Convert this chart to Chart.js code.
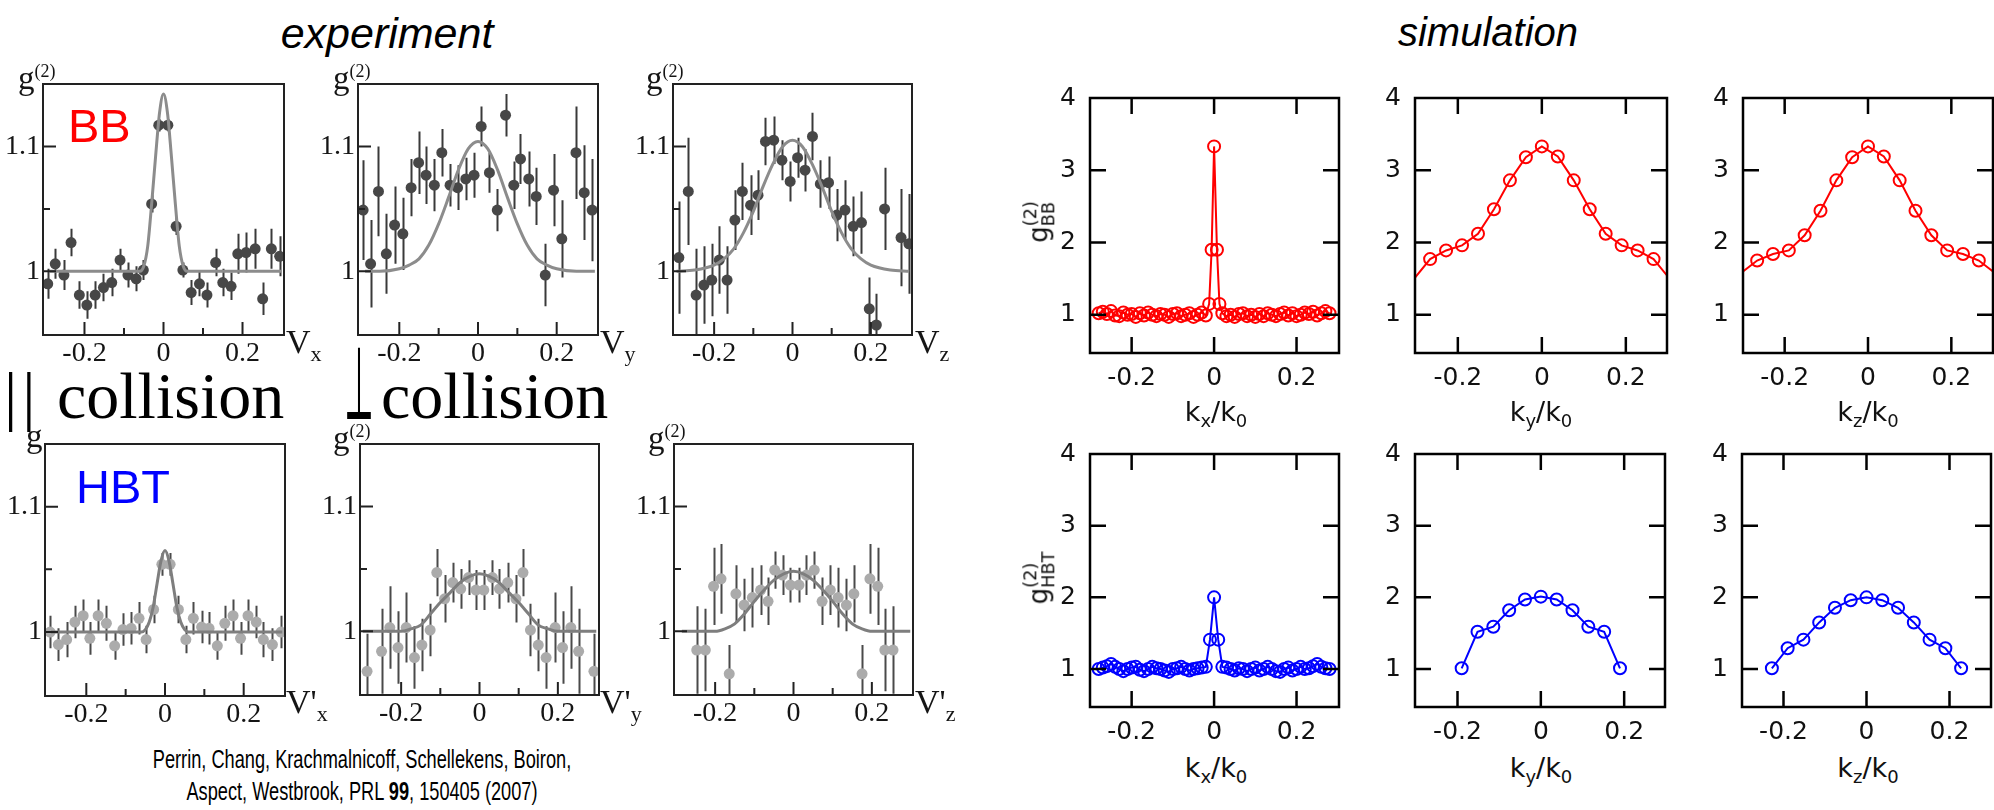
<!DOCTYPE html>
<html>
<head>
<meta charset="utf-8">
<title>g2 correlations: experiment and simulation</title>
<script src="https://cdn.jsdelivr.net/npm/chart.js@4.4.1/dist/chart.umd.min.js"></script>
<style>
  html, body { margin: 0; padding: 0; background: #fff; }
  #page { position: relative; width: 1994px; height: 810px; overflow: hidden; background: #fff; }
  #page canvas { position: absolute; }
  .txt { position: absolute; white-space: nowrap; line-height: 1; }
  .serif { font-family: "Liberation Serif", "DejaVu Serif", serif; color: #151515; }
  .sans { font-family: "Liberation Sans", Arial, sans-serif; color: #000; }
  .gp { font-family: "DejaVu Sans", sans-serif; color: #111; }
  .txt sub, .txt sup { line-height: 0; }
  .ctr { transform: translateX(-50%); }
  .ylab { transform: translate(-50%, -50%) rotate(-90deg); font-size: 26px; }
  .stk { display: inline-block; vertical-align: middle; font-size: 0.68em; line-height: 1; text-align: left; }
  .stk span { display: block; }
  .perp { font-family: "Noto Sans CJK JP", "DejaVu Sans", sans-serif; font-size: 50px; color: #000; transform: scale(0.6, 2.0); transform-origin: 0 46px; }
</style>
</head>
<body>
<div id="page">
  <canvas id="e1"></canvas><canvas id="e2"></canvas><canvas id="e3"></canvas>
  <canvas id="e4"></canvas><canvas id="e5"></canvas><canvas id="e6"></canvas>
  <canvas id="s1"></canvas><canvas id="s2"></canvas><canvas id="s3"></canvas>
  <canvas id="s4"></canvas><canvas id="s5"></canvas><canvas id="s6"></canvas>

  <div class="txt sans ctr" style="left:387px; top:12px; font-size:43px; font-style:italic;">experiment</div>
  <div class="txt sans ctr" style="left:1488px; top:12px; font-size:40px; font-style:italic;">simulation</div>

  <div class="txt sans" style="left:68px; top:102px; font-size:47px; color:#ff0000;">BB</div>
  <div class="txt sans" style="left:76px; top:463px; font-size:47px; color:#0000ff;">HBT</div>

  <div class="txt serif" style="left:4px; top:363px; font-size:66px; color:#000;"><span style="letter-spacing:5px;">||</span> collision</div>
  <div class="txt perp" style="left:344px; top:374px;">&#8869;</div>
  <div class="txt serif" style="left:381px; top:363px; font-size:66px; color:#000;">collision</div>

  <!-- g2 labels over the measured panels -->
  <div class="txt serif" style="left:18px; top:62px; font-size:33px;">g<sup style="font-size:18px;">(2)</sup></div>
  <div class="txt serif" style="left:333px; top:62px; font-size:33px;">g<sup style="font-size:18px;">(2)</sup></div>
  <div class="txt serif" style="left:646px; top:62px; font-size:33px;">g<sup style="font-size:18px;">(2)</sup></div>
  <div class="txt serif" style="left:26px; top:420px; font-size:33px;">g</div>
  <div class="txt serif" style="left:333px; top:422px; font-size:33px;">g<sup style="font-size:18px;">(2)</sup></div>
  <div class="txt serif" style="left:648px; top:422px; font-size:33px;">g<sup style="font-size:18px;">(2)</sup></div>

  <!-- velocity axis names -->
  <div class="txt serif" style="left:286px; top:325px; font-size:34px;">V<sub style="font-size:22px;">x</sub></div>
  <div class="txt serif" style="left:600px; top:325px; font-size:34px;">V<sub style="font-size:22px;">y</sub></div>
  <div class="txt serif" style="left:915px; top:325px; font-size:34px;">V<sub style="font-size:22px;">z</sub></div>
  <div class="txt serif" style="left:286px; top:685px; font-size:34px;">V'<sub style="font-size:22px;">x</sub></div>
  <div class="txt serif" style="left:600px; top:685px; font-size:34px;">V'<sub style="font-size:22px;">y</sub></div>
  <div class="txt serif" style="left:915px; top:685px; font-size:34px;">V'<sub style="font-size:22px;">z</sub></div>

  <!-- simulation axis titles -->
  <div class="txt gp ctr" style="left:1216px; top:398px; font-size:27px;">k<sub style="font-size:18px;">x</sub>/k<sub style="font-size:18px;">0</sub></div>
  <div class="txt gp ctr" style="left:1541px; top:398px; font-size:27px;">k<sub style="font-size:18px;">y</sub>/k<sub style="font-size:18px;">0</sub></div>
  <div class="txt gp ctr" style="left:1868px; top:398px; font-size:27px;">k<sub style="font-size:18px;">z</sub>/k<sub style="font-size:18px;">0</sub></div>
  <div class="txt gp ctr" style="left:1216px; top:754px; font-size:27px;">k<sub style="font-size:18px;">x</sub>/k<sub style="font-size:18px;">0</sub></div>
  <div class="txt gp ctr" style="left:1541px; top:754px; font-size:27px;">k<sub style="font-size:18px;">y</sub>/k<sub style="font-size:18px;">0</sub></div>
  <div class="txt gp ctr" style="left:1868px; top:754px; font-size:27px;">k<sub style="font-size:18px;">z</sub>/k<sub style="font-size:18px;">0</sub></div>

  <div class="txt gp ylab" style="left:1040px; top:222px;">g<span class="stk"><span>(2)</span><span>BB</span></span></div>
  <div class="txt gp ylab" style="left:1040px; top:578px;">g<span class="stk"><span>(2)</span><span>HBT</span></span></div>

  <div class="txt sans" style="left:362px; top:746px; font-size:26px; transform:translateX(-50%) scaleX(0.70);">Perrin, Chang, Krachmalnicoff, Schellekens, Boiron,</div>
  <div class="txt sans" style="left:362px; top:778px; font-size:26px; transform:translateX(-50%) scaleX(0.70);">Aspect, Westbrook, PRL <b>99</b>, 150405 (2007)</div>
</div>

<script>
// MEASURED g2 (BB row) — V_x, V_y, V_z

const bbVxX = [-0.293, -0.274, -0.252, -0.234, -0.213, -0.194, -0.173, -0.152, -0.131, -0.110, -0.090, -0.069, -0.051, -0.030, -0.012, 0.011, 0.032, 0.049, 0.070, 0.091, 0.110, 0.132, 0.150, 0.171, 0.188, 0.209, 0.232, 0.251, 0.273, 0.294];
const bbVxY = [0.990, 1.006, 0.997, 1.023, 0.981, 0.973, 0.981, 0.987, 0.991, 1.009, 0.997, 0.994, 1.001, 1.054, 1.117, 1.117, 1.036, 1.001, 0.983, 0.990, 0.981, 1.007, 0.991, 0.988, 1.014, 1.015, 1.018, 0.978, 1.018, 1.012];
const bbVxErr = [0.012, 0.012, 0.012, 0.011, 0.011, 0.011, 0.011, 0.011, 0.011, 0.009, 0.010, 0.010, 0.008, 0.007, 0.005, 0.005, 0.007, 0.006, 0.010, 0.010, 0.010, 0.011, 0.011, 0.011, 0.016, 0.016, 0.016, 0.013, 0.016, 0.016];
const bbVxFitX = [-0.29, -0.06, -0.05, -0.04, -0.03, -0.02, -0.01, 0, 0.01, 0.02, 0.03, 0.04, 0.05, 0.06, 0.298];
const bbVxFitY = [1.0, 1.0, 1.004, 1.02, 1.054, 1.092, 1.127, 1.142, 1.127, 1.092, 1.054, 1.02, 1.004, 1.0, 1.0];

const bbVyX = [-0.292, -0.273, -0.253, -0.233, -0.212, -0.191, -0.170, -0.151, -0.132, -0.111, -0.092, -0.071, -0.052, -0.031, -0.010, 0.008, 0.029, 0.049, 0.070, 0.091, 0.108, 0.129, 0.148, 0.171, 0.192, 0.213, 0.249, 0.270, 0.290];
const bbVyY = [1.049, 1.006, 1.064, 1.014, 1.037, 1.030, 1.067, 1.087, 1.077, 1.069, 1.095, 1.069, 1.067, 1.074, 1.077, 1.116, 1.079, 1.049, 1.125, 1.069, 1.090, 1.074, 1.060, 0.997, 1.065, 1.026, 1.095, 1.063, 1.049];
const bbVyErr = [0.040, 0.035, 0.036, 0.032, 0.031, 0.029, 0.023, 0.025, 0.023, 0.021, 0.019, 0.017, 0.018, 0.017, 0.018, 0.016, 0.016, 0.017, 0.017, 0.019, 0.020, 0.022, 0.023, 0.025, 0.029, 0.031, 0.037, 0.038, 0.041];
const bbVyFitX = [-0.287, -0.25, -0.2, -0.175, -0.15, -0.125, -0.1, -0.075, -0.05, -0.025, 0, 0.025, 0.05, 0.075, 0.1, 0.125, 0.15, 0.175, 0.2, 0.25, 0.297];
const bbVyFitY = [1.0, 1.0, 1.002, 1.005, 1.010, 1.021, 1.038, 1.059, 1.081, 1.098, 1.104, 1.098, 1.081, 1.059, 1.038, 1.021, 1.010, 1.005, 1.002, 1.0, 1.0];

const bbVzX = [-0.290, -0.266, -0.246, -0.226, -0.206, -0.187, -0.167, -0.147, -0.128, -0.107, -0.088, -0.069, -0.048, -0.027, -0.006, 0.013, 0.032, 0.051, 0.071, 0.092, 0.113, 0.134, 0.155, 0.176, 0.196, 0.214, 0.235, 0.277, 0.297];
const bbVzY = [1.011, 1.064, 0.981, 0.989, 0.993, 1.009, 0.993, 1.041, 1.064, 1.053, 1.061, 1.104, 1.105, 1.089, 1.072, 1.091, 1.081, 1.108, 1.070, 1.071, 1.045, 1.049, 1.036, 1.039, 0.970, 0.957, 1.050, 1.027, 1.022];
const bbVzErr = [0.045, 0.043, 0.037, 0.031, 0.029, 0.027, 0.027, 0.024, 0.023, 0.024, 0.020, 0.019, 0.019, 0.016, 0.016, 0.016, 0.017, 0.019, 0.019, 0.021, 0.021, 0.024, 0.024, 0.025, 0.025, 0.025, 0.033, 0.039, 0.040];
const bbVzFitX = [-0.296, -0.25, -0.2, -0.175, -0.15, -0.125, -0.1, -0.075, -0.05, -0.025, 0, 0.025, 0.05, 0.075, 0.1, 0.125, 0.15, 0.175, 0.2, 0.25, 0.298];
const bbVzFitY = [1.0, 1.001, 1.005, 1.010, 1.018, 1.031, 1.048, 1.068, 1.086, 1.100, 1.105, 1.100, 1.086, 1.068, 1.048, 1.031, 1.018, 1.010, 1.005, 1.001, 1.0];

// MEASURED g2 (HBT row) — V'_x, V'_y, V'_z

const hbtVxX = [-0.292, -0.271, -0.250, -0.229, -0.208, -0.191, -0.170, -0.149, -0.128, -0.107, -0.086, -0.066, -0.048, -0.029, -0.008, 0.013, 0.034, 0.053, 0.072, 0.093, 0.112, 0.133, 0.152, 0.173, 0.192, 0.211, 0.232, 0.250, 0.273, 0.295];
const hbtVxY = [1.000, 0.990, 0.994, 1.008, 1.013, 0.995, 1.013, 1.007, 0.989, 1.002, 1.003, 1.011, 0.994, 1.018, 1.054, 1.054, 1.018, 0.994, 1.011, 1.004, 1.003, 0.989, 1.007, 1.013, 0.995, 1.013, 1.008, 0.994, 0.990, 1.000];
const hbtVxErr = [0.013, 0.013, 0.014, 0.013, 0.013, 0.013, 0.013, 0.014, 0.011, 0.013, 0.013, 0.013, 0.011, 0.011, 0.009, 0.009, 0.011, 0.011, 0.013, 0.013, 0.013, 0.011, 0.014, 0.013, 0.013, 0.013, 0.013, 0.014, 0.013, 0.013];
const hbtVxFitX = [-0.29, -0.06, -0.05, -0.04, -0.03, -0.02, -0.01, 0, 0.01, 0.02, 0.03, 0.04, 0.05, 0.06, 0.298];
const hbtVxFitY = [1.0, 1.0, 1.002, 1.008, 1.020, 1.039, 1.057, 1.065, 1.057, 1.039, 1.020, 1.008, 1.002, 1.0, 1.0];

const hbtVyX = [-0.287, -0.250, -0.229, -0.208, -0.187, -0.166, -0.147, -0.126, -0.109, -0.089, -0.068, -0.048, -0.028, -0.009, 0.011, 0.033, 0.051, 0.072, 0.093, 0.111, 0.130, 0.150, 0.170, 0.193, 0.212, 0.233, 0.253, 0.292];
const hbtVyY = [0.968, 0.984, 1.003, 0.987, 1.003, 0.979, 0.989, 1.001, 1.047, 1.026, 1.039, 1.034, 1.043, 1.033, 1.033, 1.043, 1.034, 1.039, 1.026, 1.047, 1.001, 0.989, 0.979, 1.003, 0.987, 1.003, 0.984, 0.968];
const hbtVyErr = [0.030, 0.034, 0.033, 0.029, 0.028, 0.025, 0.021, 0.021, 0.019, 0.019, 0.016, 0.016, 0.014, 0.016, 0.016, 0.014, 0.016, 0.016, 0.019, 0.019, 0.021, 0.021, 0.025, 0.028, 0.029, 0.033, 0.034, 0.030];
const hbtVyFitX = [-0.298, -0.2, -0.175, -0.15, -0.125, -0.1, -0.075, -0.05, -0.025, 0, 0.025, 0.05, 0.075, 0.1, 0.125, 0.15, 0.175, 0.2, 0.298];
const hbtVyFitY = [1.0, 1.0, 1.002, 1.005, 1.014, 1.023, 1.031, 1.039, 1.044, 1.046, 1.044, 1.039, 1.031, 1.023, 1.014, 1.005, 1.002, 1.0, 1.0];

const hbtVzX = [-0.247, -0.225, -0.204, -0.185, -0.164, -0.147, -0.126, -0.105, -0.084, -0.065, -0.048, -0.028, -0.008, 0.014, 0.033, 0.053, 0.073, 0.094, 0.114, 0.135, 0.154, 0.175, 0.195, 0.215, 0.233, 0.254];
const hbtVzY = [0.985, 0.985, 1.036, 1.042, 0.966, 1.030, 1.021, 1.027, 1.033, 1.024, 1.049, 1.045, 1.037, 1.037, 1.045, 1.049, 1.024, 1.033, 1.027, 1.021, 1.030, 0.966, 1.042, 1.036, 0.985, 0.985];
const hbtVzErr = [0.035, 0.033, 0.031, 0.028, 0.023, 0.023, 0.021, 0.024, 0.020, 0.019, 0.015, 0.016, 0.014, 0.014, 0.016, 0.015, 0.019, 0.020, 0.024, 0.021, 0.023, 0.023, 0.028, 0.031, 0.033, 0.035];
const hbtVzFitX = [-0.285, -0.2, -0.175, -0.15, -0.125, -0.1, -0.075, -0.05, -0.025, 0, 0.025, 0.05, 0.075, 0.1, 0.125, 0.15, 0.175, 0.2, 0.298];
const hbtVzFitY = [1.0, 1.0, 1.002, 1.006, 1.014, 1.024, 1.033, 1.041, 1.046, 1.048, 1.046, 1.041, 1.033, 1.024, 1.014, 1.006, 1.002, 1.0, 1.0];

// SIMULATED g2 (BB row) — k_x, k_y, k_z

const bbKxX = [-0.28, -0.27, -0.26, -0.25, -0.24, -0.23, -0.22, -0.21, -0.20, -0.19, -0.18, -0.17, -0.16, -0.15, -0.14, -0.13, -0.12, -0.11, -0.10, -0.09, -0.08, -0.07, -0.06, -0.05, -0.04, -0.03, -0.02,
  -0.012, -0.006, 0, 0.007, 0.013,
  0.02, 0.03, 0.04, 0.05, 0.06, 0.07, 0.08, 0.09, 0.10, 0.11, 0.12, 0.13, 0.14, 0.15, 0.16, 0.17, 0.18, 0.19, 0.20, 0.21, 0.22, 0.23, 0.24, 0.25, 0.26, 0.27, 0.28];
const bbKxY = [1.02, 1.04, 1.01, 1.05, 0.99, 0.98, 1.03, 1.00, 1.01, 0.97, 1.02, 0.99, 1.03, 1.00, 0.98, 1.01, 1.00, 0.97, 1.01, 1.02, 0.98, 1.00, 1.02, 0.97, 1.00, 1.03, 0.99,
  1.15, 1.90, 3.33, 1.90, 1.15,
  1.02, 0.98, 1.00, 0.97, 1.01, 1.02, 0.98, 1.00, 0.97, 1.01, 0.98, 1.02, 1.00, 0.98, 1.01, 1.03, 0.99, 1.02, 0.98, 1.00, 1.03, 1.01, 1.04, 0.99, 1.02, 1.05, 1.02];

const bbKyX = [-0.304, -0.266, -0.228, -0.19, -0.152, -0.114, -0.076, -0.038, 0, 0.038, 0.076, 0.114, 0.152, 0.19, 0.228, 0.266, 0.304];
const bbKyY = [1.50, 1.77, 1.89, 1.96, 2.12, 2.46, 2.86, 3.18, 3.33, 3.19, 2.86, 2.46, 2.12, 1.96, 1.89, 1.77, 1.50];

const bbKzX = [-0.304, -0.266, -0.228, -0.19, -0.152, -0.114, -0.076, -0.038, 0, 0.038, 0.076, 0.114, 0.152, 0.19, 0.228, 0.266, 0.304];
const bbKzY = [1.58, 1.75, 1.84, 1.89, 2.10, 2.44, 2.86, 3.18, 3.33, 3.19, 2.86, 2.44, 2.10, 1.89, 1.84, 1.75, 1.58];

// SIMULATED g2 (HBT row)

const hbtKxX = [-0.28, -0.27, -0.26, -0.25, -0.24, -0.23, -0.22, -0.21, -0.20, -0.19, -0.18, -0.17, -0.16, -0.15, -0.14, -0.13, -0.12, -0.11, -0.10, -0.09, -0.08, -0.07, -0.06, -0.05, -0.04, -0.03, -0.02,
  -0.01, 0, 0.01,
  0.02, 0.03, 0.04, 0.05, 0.06, 0.07, 0.08, 0.09, 0.10, 0.11, 0.12, 0.13, 0.14, 0.15, 0.16, 0.17, 0.18, 0.19, 0.20, 0.21, 0.22, 0.23, 0.24, 0.25, 0.26, 0.27, 0.28];
const hbtKxY = [1.00, 1.02, 1.04, 1.07, 1.03, 1.00, 0.97, 1.00, 1.02, 1.03, 0.99, 0.97, 1.00, 1.03, 1.01, 1.00, 0.98, 0.96, 1.00, 1.01, 1.03, 1.00, 0.98, 1.00, 1.01, 1.02, 1.03,
  1.41, 2.00, 1.41,
  1.03, 1.02, 1.00, 0.98, 1.01, 1.00, 0.97, 1.00, 1.02, 0.98, 1.00, 1.03, 1.00, 0.97, 0.96, 1.00, 1.02, 0.98, 1.00, 1.03, 1.00, 1.01, 1.04, 1.07, 1.03, 1.01, 1.00];

const hbtKyX = [-0.19, -0.152, -0.114, -0.076, -0.038, 0, 0.038, 0.076, 0.114, 0.152, 0.19];
const hbtKyY = [1.01, 1.52, 1.59, 1.82, 1.97, 2.01, 1.97, 1.82, 1.59, 1.52, 1.01];

const hbtKzX = [-0.228, -0.19, -0.152, -0.114, -0.076, -0.038, 0, 0.038, 0.076, 0.114, 0.152, 0.19, 0.228];
const hbtKzY = [1.01, 1.29, 1.41, 1.65, 1.855, 1.96, 2.00, 1.96, 1.855, 1.65, 1.41, 1.29, 1.01];

// TICKS
const expXTicks = [-0.2, 0, 0.2];
const expXMinor = [-0.1, 0.1];
const expYTicks = [1, 1.1];
const expYMinor = [1.05];
const simXTicks = [-0.2, 0, 0.2];
const simYTicks = [1, 2, 3, 4];

// PLUGINS

// vertical error bars, drawn under the dots
const errorBars = {
  id: "errorBars",
  beforeDatasetsDraw(chart, args, o) {
    if (!o.err) return;
    const { ctx, chartArea: a, scales: { x, y } } = chart;
    const pts = chart.data.datasets[o.dataset].data;
    ctx.save();
    ctx.beginPath();
    ctx.rect(a.left, a.top, a.right - a.left, a.bottom - a.top);
    ctx.clip();
    ctx.strokeStyle = o.color;
    ctx.lineWidth = o.width;
    ctx.beginPath();
    pts.forEach((p, i) => {
      const px = Math.round(x.getPixelForValue(p.x)) + 0.5;
      ctx.moveTo(px, y.getPixelForValue(p.y - o.err[i]));
      ctx.lineTo(px, y.getPixelForValue(p.y + o.err[i]));
    });
    ctx.stroke();
    ctx.restore();
  }
};

// closed frame with inward tick marks
const boxFrame = {
  id: "boxFrame",
  afterDraw(chart, args, o) {
    const { ctx, chartArea: a, scales: { x, y } } = chart;
    ctx.save();
    ctx.strokeStyle = o.color;
    ctx.lineWidth = o.width;
    ctx.lineCap = "butt";
    ctx.strokeRect(a.left, a.top, a.right - a.left, a.bottom - a.top);
    ctx.beginPath();
    const xMark = (v, len) => {
      const px = x.getPixelForValue(v);
      ctx.moveTo(px, a.bottom); ctx.lineTo(px, a.bottom - len);
      if (o.mirror) { ctx.moveTo(px, a.top); ctx.lineTo(px, a.top + len); }
    };
    const yMark = (v, len) => {
      const py = y.getPixelForValue(v);
      ctx.moveTo(a.left, py); ctx.lineTo(a.left + len, py);
      if (o.mirror) { ctx.moveTo(a.right, py); ctx.lineTo(a.right - len, py); }
    };
    o.xMajor.forEach(v => xMark(v, o.major));
    (o.xMinor || []).forEach(v => xMark(v, o.minor));
    o.yMajor.forEach(v => yMark(v, o.major));
    (o.yMinor || []).forEach(v => yMark(v, o.minor));
    ctx.stroke();
    ctx.restore();
  }
};

// HELPERS

function place(id, box, pad) {
  const cv = document.getElementById(id);
  const w = box[2] - box[0] + pad.l + pad.r;
  const h = box[3] - box[1] + pad.t + pad.b;
  cv.width = w;
  cv.height = h;
  cv.style.width = w + "px";
  cv.style.height = h + "px";
  cv.style.left = (box[0] - pad.l) + "px";
  cv.style.top = (box[1] - pad.t) + "px";
  return cv;
}

function fixedAxis(min, max, ticks, size, font, padding) {
  return {
    type: "linear",
    min: min,
    max: max,
    afterBuildTicks: s => { s.ticks = ticks.map(v => ({ value: v })); },
    afterFit: s => { if (s.isHorizontal()) s.height = size; else s.width = size; },
    grid: { display: false, drawTicks: false },
    border: { display: false },
    ticks: { autoSkip: false, maxRotation: 0, padding: padding, color: font.color, font: { family: font.family, size: font.size }, callback: v => String(v) }
  };
}

const serifFont = { family: "Liberation Serif", size: 28, color: "#151515" };
const gpFont = { family: "DejaVu Sans", size: 25, color: "#111" };

function expPanel(id, box, xs, ys, errs, fitXs, fitYs, look) {
  const pad = { l: 44, r: 6, t: 26, b: 42 };
  const cv = place(id, box, pad);
  new Chart(cv, {
    type: "scatter",
    data: {
      datasets: [
        {
          data: fitXs.map((x, i) => ({ x: x, y: fitYs[i] })),
          showLine: true, pointRadius: 0, borderColor: look.fit, borderWidth: 3,
          cubicInterpolationMode: "monotone"
        },
        {
          data: xs.map((x, i) => ({ x: x, y: ys[i] })),
          pointRadius: 5.5, backgroundColor: look.dot, borderColor: look.dot, pointBorderWidth: 0
        }
      ]
    },
    options: {
      responsive: false, animation: false, devicePixelRatio: 1,
      layout: { padding: { top: pad.t, right: pad.r, left: 0, bottom: 0 } },
      plugins: {
        legend: { display: false },
        tooltip: { enabled: false },
        errorBars: { err: errs, dataset: 1, color: look.bar, width: 2 },
        boxFrame: { color: "#222", width: 2, mirror: false, major: 13, minor: 7,
          xMajor: expXTicks, xMinor: expXMinor, yMajor: expYTicks, yMinor: expYMinor }
      },
      scales: {
        x: fixedAxis(-0.305, 0.305, expXTicks, pad.b, serifFont, 2),
        y: fixedAxis(0.949, 1.15, expYTicks, pad.l, serifFont, 3)
      }
    },
    plugins: [errorBars, boxFrame]
  });
}

function simPanel(id, box, xs, ys, color, xMin, xMax) {
  const pad = { l: 60, r: 6, t: 24, b: 40 };
  const cv = place(id, box, pad);
  // points past the frame only carry the line to the edge
  const radii = xs.map(x => (x < xMin || x > xMax) ? 0 : 6);
  new Chart(cv, {
    type: "scatter",
    data: {
      datasets: [{
        data: xs.map((x, i) => ({ x: x, y: ys[i] })),
        showLine: true, borderColor: color, borderWidth: 2,
        pointRadius: radii, pointBorderWidth: 2, pointBorderColor: color,
        pointBackgroundColor: "rgba(0,0,0,0)"
      }]
    },
    options: {
      responsive: false, animation: false, devicePixelRatio: 1,
      layout: { padding: { top: pad.t, right: pad.r, left: 0, bottom: 0 } },
      plugins: {
        legend: { display: false },
        tooltip: { enabled: false },
        boxFrame: { color: "#000", width: 2.5, mirror: true, major: 16,
          xMajor: simXTicks, yMajor: [1, 2, 3] }
      },
      scales: {
        x: fixedAxis(xMin, xMax, simXTicks, pad.b, gpFont, 10),
        y: fixedAxis(0.47, 4.0, simYTicks, pad.l, gpFont, 14)
      }
    },
    plugins: [boxFrame]
  });
}

// DRAW

const bbLook = { dot: "#474747", bar: "#3a3a3a", fit: "#8c8c8c" };
const hbtLook = { dot: "#ababab", bar: "#4a4a4a", fit: "#7e7e7e" };

expPanel("e1", [43, 84, 284, 335], bbVxX, bbVxY, bbVxErr, bbVxFitX, bbVxFitY, bbLook);
expPanel("e2", [358, 84, 598, 335], bbVyX, bbVyY, bbVyErr, bbVyFitX, bbVyFitY, bbLook);
expPanel("e3", [673, 84, 912, 335], bbVzX, bbVzY, bbVzErr, bbVzFitX, bbVzFitY, bbLook);
expPanel("e4", [45, 444, 285, 696], hbtVxX, hbtVxY, hbtVxErr, hbtVxFitX, hbtVxFitY, hbtLook);
expPanel("e5", [360, 444, 599, 695], hbtVyX, hbtVyY, hbtVyErr, hbtVyFitX, hbtVyFitY, hbtLook);
expPanel("e6", [674, 444, 913, 695], hbtVzX, hbtVzY, hbtVzErr, hbtVzFitX, hbtVzFitY, hbtLook);

simPanel("s1", [1090, 93, 1341, 353], bbKxX, bbKxY, "#ff0000", -0.301, 0.303);
simPanel("s2", [1415, 93, 1667, 353], bbKyX, bbKyY, "#ff0000", -0.302, 0.298);
simPanel("s3", [1743, 93, 1993, 353], bbKzX, bbKzY, "#ff0000", -0.300, 0.300);
simPanel("s4", [1090, 449, 1341, 707], hbtKxX, hbtKxY, "#0000ff", -0.301, 0.303);
simPanel("s5", [1415, 449, 1667, 707], hbtKyX, hbtKyY, "#0000ff", -0.302, 0.298);
simPanel("s6", [1742, 449, 1993, 707], hbtKzX, hbtKzY, "#0000ff", -0.300, 0.300);
</script>
</body>
</html>
